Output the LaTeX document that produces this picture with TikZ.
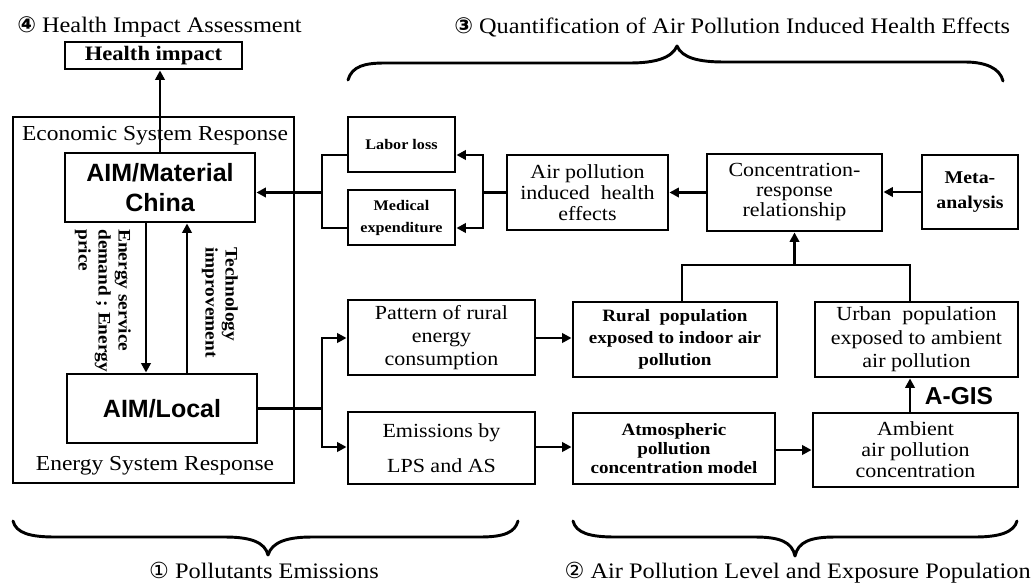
\documentclass[tikz,border=0pt]{standalone}
\usepackage{fontspec}
\setmainfont{Liberation Serif}[FakeStretch=1.1]
\newfontfamily\aimfont{Liberation Sans}
\newfontfamily\circfont{DejaVu Sans}
\usetikzlibrary{arrows.meta}

\begin{document}
\begin{tikzpicture}[x=0.75pt,y=-0.75pt,
  bx/.style={draw, line width=2.2pt, inner sep=0pt, align=center},
  ln/.style={line width=1.9pt},
  arr/.style={line width=1.9pt, -{Triangle[length=7pt,width=7pt]}},
  brace/.style={line width=2.2pt, line cap=round, line join=round},
  ttl/.style={font=\fontsize{16.6}{19}\selectfont, inner sep=0pt},
  sysl/.style={font=\fontsize{16}{19}\selectfont, inner sep=0pt},
  rot/.style={font=\bfseries\fontsize{13.2}{15}\selectfont, inner sep=0pt, align=left, rotate=-90},
]
\useasboundingbox (0,0) rectangle (1034,585);

% ---------- section headings ----------
\node[ttl, anchor=base west] (h4) at (17,33) {{\circfont\bfseries ④} Health Impact Assessment};
\node[ttl, anchor=base west] (h3) at (454,34) {{\circfont\bfseries ③} Quantification of Air Pollution Induced Health Effects};
\node[ttl, anchor=base] (h1) at (264,578) {{\circfont ①} Pollutants Emissions};
\node[ttl, anchor=base east] (h2) at (1031,578) {{\circfont ②} Air Pollution Level and Exposure Population};

% ---------- braces ----------
\draw[brace] (348,80) .. controls (352,66) and (365,63) .. (385,63) -- (630,63)
  .. controls (655,63) and (672,58) .. (677,46)
  .. controls (682,58) and (699,62) .. (724,62) -- (965,62)
  .. controls (985,62) and (1000,68) .. (1003,81);
\draw[brace] (13,521) .. controls (16,533) and (30,537) .. (55,537) -- (225,537)
  .. controls (250,537) and (265,542) .. (268,555)
  .. controls (272,542) and (287,537) .. (312,537) -- (480,537)
  .. controls (505,537) and (515,532) .. (518,521);
\draw[brace] (573,521) .. controls (576,533) and (590,537) .. (615,537) -- (755,537)
  .. controls (780,537) and (792,542) .. (795,556)
  .. controls (798,542) and (810,537) .. (835,537) -- (975,537)
  .. controls (1000,537) and (1014,532) .. (1017,521);

% ---------- economic / energy system frame ----------
\node[draw, line width=1.5pt, minimum width=210.75pt, minimum height=274.5pt, inner sep=0pt] (frame) at (153.5,300) {};
\node[sysl, anchor=base] (esr) at (155,140) {Economic System Response};
\node[sysl, anchor=base] (ensr) at (155,470) {Energy System Response};

% ---------- boxes ----------
\node[bx, minimum width=132.75pt, minimum height=20.25pt, font=\bfseries\fontsize{15.4}{18}\selectfont] (health) at (153.5,55.5) {Health impact};
\node[bx, minimum width=142.5pt, minimum height=51.75pt, font=\aimfont\bfseries\fontsize{18.75}{22.5}\selectfont] (mat) at (160,187.5) {AIM/Material\\China};
\node[bx, minimum width=142.5pt, minimum height=51.75pt, font=\aimfont\bfseries\fontsize{18.75}{22.5}\selectfont] (local) at (162,408.5) {AIM/Local};

\node[bx, minimum width=80.25pt, minimum height=41.25pt, font=\bfseries\fontsize{11}{16.5}\selectfont] (labor) at (401.5,144.5) {Labor loss};
\node[bx, minimum width=80.25pt, minimum height=41.25pt, font=\bfseries\fontsize{11}{16.5}\selectfont] (medical) at (401.5,217.5) {Medical\\expenditure};

\node[bx, minimum width=120.75pt, minimum height=56.25pt, font=\fontsize{15}{15.75}\selectfont] (airp) at (587.5,192.5) {Air pollution\\induced\ \ health\\effects};
\node[bx, minimum width=131.25pt, minimum height=57.75pt, font=\fontsize{15}{15}\selectfont] (conc) at (794.5,192.5) {Concentration-\\response\\relationship};
\node[bx, minimum width=72pt, minimum height=55.5pt, font=\bfseries\fontsize{13.5}{18.75}\selectfont] (meta) at (970,192) {Meta-\\analysis};

\node[bx, minimum width=140.25pt, minimum height=56.25pt, font=\fontsize{15}{17}\selectfont] (pattern) at (441.5,337.5) {Pattern of rural\\energy\\consumption};
\node[bx, minimum width=140.25pt, minimum height=54pt, font=\fontsize{15}{26}\selectfont] (emis) at (441.5,448) {Emissions by\\LPS and AS};
\node[bx, minimum width=153pt, minimum height=56.25pt, font=\bfseries\fontsize{13}{16.5}\selectfont] (rural) at (675,339.5) {Rural\ \ population\\exposed to indoor air\\pollution};
\node[bx, minimum width=151.5pt, minimum height=53.25pt, font=\bfseries\fontsize{13}{14.25}\selectfont] (atmo) at (674,448.5) {Atmospheric\\pollution\\concentration model};
\node[bx, minimum width=152.25pt, minimum height=56.25pt, font=\fontsize{15}{17.5}\selectfont] (urban) at (916.5,339.5) {Urban\ \ population\\exposed to ambient\\air pollution};
\node[bx, minimum width=153.75pt, minimum height=55.5pt, font=\fontsize{15}{15.75}\selectfont] (amb) at (915.5,450) {Ambient\\air pollution\\concentration};

\node[font=\aimfont\bfseries\fontsize{18.4}{20}\selectfont, inner sep=0pt] (agis) at (959,396) {A-GIS};

% ---------- rotated flow labels ----------
\node[rot, anchor=north west] (esd) at (131,229) {Energy service\\demand ; Energy\\price};
\node[rot, anchor=north west] (tech) at (238,247) {Technology\\improvement};

% ---------- junction points ----------
\coordinate (td) at (146,0);
\coordinate (tu) at (187,0);
\coordinate (rb1) at (483,155);
\coordinate (rb2) at (483,228);
\coordinate (lb1) at (322,155);
\coordinate (lb2) at (322,228);
\coordinate (lc1) at (322,338);
\coordinate (lc2) at (322,447);
\coordinate (jl) at (682,265);
\coordinate (jr) at (910,265);
\coordinate (ya) at (0,450);

% ---------- connectors ----------
\draw[arr] (mat.north) -- (mat.north |- health.south);
\draw[arr] (td |- mat.south) -- (td |- local.north);
\draw[arr] (tu |- local.north) -- (tu |- mat.south);

\draw[ln] (airp.west) -- (airp.west -| rb1);
\draw[arr] (airp.west -| rb1) |- (labor.east |- rb1);
\draw[arr] (airp.west -| rb1) |- (medical.east |- rb2);
\draw[ln] (labor.west |- lb1) -| (lb2) -- (medical.west |- lb2);
\draw[arr] (lb1 |- airp.west) -- (mat.east |- airp.west);

\draw[arr] (conc.west) -- (conc.west -| airp.east);
\draw[arr] (meta.west) -- (meta.west -| conc.east);

\draw[ln] (jl |- rural.north) -- (jl) -- (jr) -- (jr |- urban.north);
\draw[arr] (jl -| conc.south) -- (conc.south);

\draw[ln] (local.east) -- (local.east -| lc1);
\draw[arr] (local.east -| lc1) |- (pattern.west |- lc1);
\draw[arr] (local.east -| lc1) |- (emis.west |- lc2);

\draw[arr] (pattern.east |- lc1) -- (rural.west |- lc1);
\draw[arr] (emis.east |- lc2) -- (atmo.west |- lc2);
\draw[arr] (atmo.east |- ya) -- (amb.west |- ya);
\draw[arr] (jr |- amb.north) -- (jr |- urban.south);
\end{tikzpicture}
\end{document}
